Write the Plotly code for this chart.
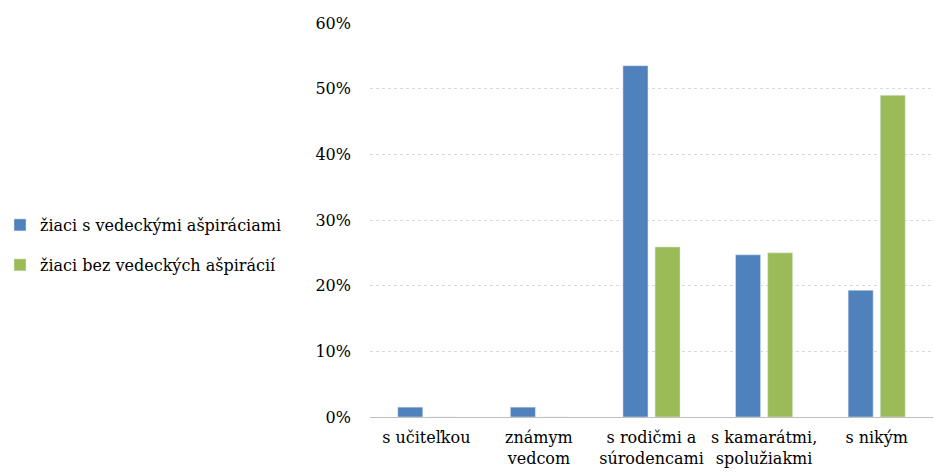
import plotly.graph_objects as go

categories = ["s učiteľkou", "známym<br>vedcom", "s rodičmi a<br>súrodencami",
              "s kamarátmi,<br>spolužiakmi", "s nikým"]
series_names = ["žiaci s vedeckými ašpiráciami", "žiaci bez vedeckých ašpirácií"]
with_aspirations = [0.015, 0.015, 0.535, 0.247, 0.193]
without_aspirations = [0.0, 0.0, 0.259, 0.250, 0.490]
tick_vals = [0, 0.1, 0.2, 0.3, 0.4, 0.5, 0.6]

font_family = "DejaVu Serif"

fig = go.Figure()
fig.add_trace(go.Bar(x=categories, y=with_aspirations, name=series_names[0],
                     marker=dict(color="#4F81BD"), legend="legend", showlegend=True))
fig.add_trace(go.Bar(x=categories, y=without_aspirations, name=series_names[1],
                     marker=dict(color="#9BBB59"), legend="legend2", showlegend=True))

legend_common = dict(xref="container", yref="container", xanchor="left", yanchor="middle",
                     font=dict(family=font_family, size=16, color="#000"),
                     bgcolor="rgba(0,0,0,0)", itemwidth=30)
fig.update_layout(
    width=935, height=476,
    showlegend=True,
    margin=dict(l=370, r=2, t=23, b=59),
    paper_bgcolor="white", plot_bgcolor="white",
    barmode="group", bargap=0.43, bargroupgap=0.22,
    font=dict(family=font_family, size=16, color="#000"),
    legend=dict(x=0.0, y=1 - 225 / 476, **legend_common),
    legend2=dict(x=0.0, y=1 - 265 / 476, **legend_common),
    xaxis=dict(showgrid=False, showline=True, linecolor="#bfbfbf", linewidth=1,
               ticks="", tickfont=dict(family=font_family, size=16, color="#000"), tickangle=0,
               ticklabelstandoff=6),
    yaxis=dict(range=[0, 0.6], tickvals=tick_vals, tickformat=".0%",
               showgrid=True, gridcolor="#d9d9d9", gridwidth=1, griddash="dot",
               zeroline=False, showline=False, ticks="", ticklen=0,
               tickfont=dict(family=font_family, size=16, color="#000"), ticklabelstandoff=18),
)
fig.write_html("out.html")
